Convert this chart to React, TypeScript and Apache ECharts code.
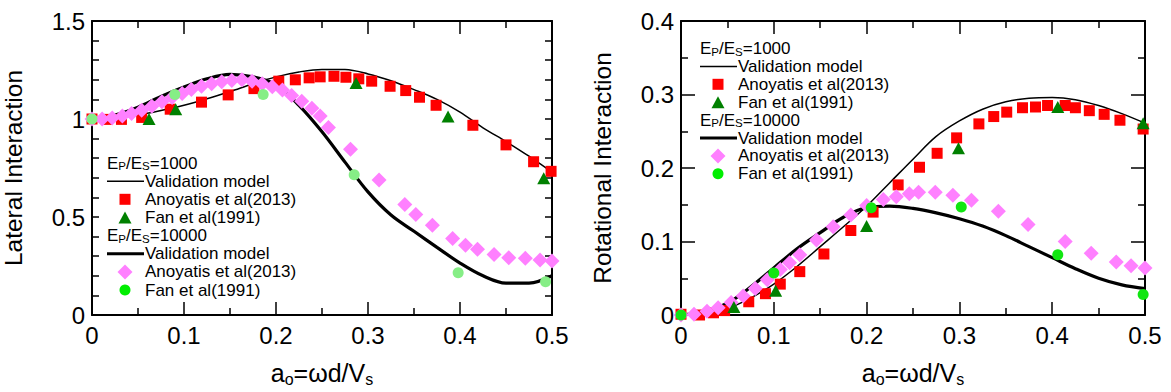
import React, { useEffect, useRef } from 'react';
import * as echarts from 'echarts';

const FONT = "'Liberation Sans', Arial, Helvetica, sans-serif";

// ---------- Left panel: Lateral Interaction ----------
const lineX = [0, 0.025, 0.05, 0.075, 0.1, 0.125, 0.15, 0.175, 0.2, 0.225, 0.25, 0.275, 0.3, 0.325, 0.35, 0.375, 0.4, 0.425, 0.45, 0.475, 0.5];
const latModel1000 = [1.0, 1.005, 1.02, 1.043, 1.07, 1.103, 1.14, 1.18, 1.215, 1.24, 1.253, 1.252, 1.23, 1.195, 1.15, 1.1, 1.035, 0.955, 0.885, 0.81, 0.728];
const latModel10000 = [1.0, 1.02, 1.06, 1.115, 1.163, 1.205, 1.228, 1.215, 1.175, 1.07, 0.935, 0.78, 0.628, 0.51, 0.427, 0.345, 0.265, 0.2, 0.163, 0.163, 0.2];

const latAnoy1000X = [0, 0.016, 0.032, 0.054, 0.085, 0.119, 0.148, 0.176, 0.203, 0.221, 0.236, 0.248, 0.263, 0.276, 0.29, 0.304, 0.324, 0.341, 0.356, 0.374, 0.414, 0.45, 0.48, 0.499];
const latAnoy1000Y = [1.0, 0.998, 0.998, 1.008, 1.05, 1.086, 1.123, 1.155, 1.193, 1.2, 1.21, 1.215, 1.218, 1.213, 1.205, 1.193, 1.167, 1.145, 1.111, 1.07, 0.968, 0.868, 0.782, 0.733];
const latFan1000X = [0.062, 0.091, 0.287, 0.387, 0.491];
const latFan1000Y = [1.0, 1.05, 1.184, 1.013, 0.698];
const latAnoy10000X = [0, 0.011, 0.022, 0.033, 0.043, 0.054, 0.065, 0.076, 0.087, 0.098, 0.108, 0.119, 0.13, 0.141, 0.152, 0.163, 0.174, 0.185, 0.196, 0.207, 0.217, 0.228, 0.239, 0.248, 0.257, 0.281, 0.312, 0.34, 0.352, 0.37, 0.392, 0.406, 0.419, 0.437, 0.453, 0.471, 0.487, 0.5];
const latAnoy10000Y = [1.0, 1.0, 1.005, 1.015, 1.028, 1.045, 1.065, 1.088, 1.11, 1.13, 1.15, 1.167, 1.18, 1.19, 1.197, 1.2, 1.193, 1.18, 1.165, 1.148, 1.12, 1.09, 1.055, 1.015, 0.956, 0.846, 0.689, 0.564, 0.513, 0.458, 0.39, 0.356, 0.335, 0.309, 0.292, 0.289, 0.28, 0.275];
const latFan10000X = [0, 0.09, 0.186, 0.285, 0.398, 0.493];
const latFan10000Y = [1.0, 1.125, 1.125, 0.716, 0.216, 0.17];

// ---------- Right panel: Rotational Interaction ----------
const rotModel1000 = [0, 0.002, 0.009, 0.023, 0.042, 0.066, 0.093, 0.12, 0.148, 0.18, 0.212, 0.243, 0.264, 0.28, 0.29, 0.295, 0.296, 0.293, 0.285, 0.274, 0.261];
const rotModel10000 = [0, 0.004, 0.016, 0.038, 0.064, 0.09, 0.112, 0.133, 0.146, 0.148, 0.145, 0.139, 0.131, 0.121, 0.108, 0.093, 0.078, 0.063, 0.05, 0.041, 0.036];

const rotAnoy1000X = [0, 0.02, 0.035, 0.047, 0.073, 0.091, 0.107, 0.128, 0.154, 0.183, 0.207, 0.234, 0.257, 0.276, 0.297, 0.321, 0.337, 0.351, 0.368, 0.382, 0.395, 0.414, 0.425, 0.44, 0.456, 0.473, 0.498];
const rotAnoy1000Y = [0.001, 0.0, 0.003, 0.006, 0.018, 0.029, 0.042, 0.059, 0.083, 0.115, 0.14, 0.177, 0.201, 0.22, 0.241, 0.26, 0.27, 0.276, 0.282, 0.283, 0.285, 0.285, 0.282, 0.278, 0.273, 0.265, 0.253];
const rotFan1000X = [0.057, 0.102, 0.2, 0.299, 0.406, 0.498];
const rotFan1000Y = [0.011, 0.033, 0.121, 0.227, 0.283, 0.261];
const rotAnoy10000X = [0, 0.014, 0.028, 0.04, 0.054, 0.067, 0.08, 0.093, 0.107, 0.117, 0.128, 0.146, 0.164, 0.183, 0.2, 0.218, 0.232, 0.246, 0.256, 0.274, 0.293, 0.313, 0.342, 0.374, 0.414, 0.442, 0.469, 0.485, 0.5];
const rotAnoy10000Y = [0.0, 0.001, 0.005, 0.01, 0.017, 0.026, 0.036, 0.048, 0.062, 0.071, 0.082, 0.102, 0.12, 0.136, 0.149, 0.157, 0.161, 0.165, 0.167, 0.167, 0.163, 0.156, 0.141, 0.123, 0.1, 0.084, 0.072, 0.067, 0.064];
const rotFan10000X = [0, 0.1, 0.205, 0.302, 0.406, 0.498];
const rotFan10000Y = [0.0, 0.057, 0.146, 0.147, 0.082, 0.028];

const legendLabels = ['Validation model', 'Anoyatis et al(2013)', 'Fan et al(1991)'];
const ratios = ['1000', '10000'];

const RED = '#ff0000';
const DKGREEN = '#008000';
const PINK = '#ff80ff';
const LTGREEN_L = '#86ee86';
const LTGREEN_R = '#11e611';
const LEG_GREEN = '#00ee00';

const zip = (xs: number[], ys: number[]) => xs.map((x, i) => [x, ys[i]]);

const axisLineStyle = { color: '#000', width: 2 };
const tickStyle = { color: '#000', width: 1.5 };

function xAxis(gridIndex: number, pos: 'bottom' | 'top') {
  const bottom = pos === 'bottom';
  return {
    type: 'value', gridIndex, position: pos, min: 0, max: 0.5, interval: 0.1,
    axisLine: { show: true, onZero: false, lineStyle: axisLineStyle },
    axisTick: { show: true, inside: true, length: 13, lineStyle: tickStyle },
    minorTick: { show: true, splitNumber: 2, length: 7, lineStyle: tickStyle },
    axisLabel: { show: bottom, color: '#000', fontSize: 24, fontFamily: FONT, margin: 8 },
    splitLine: { show: false },
    minorSplitLine: { show: false },
    name: bottom ? '{n|a}{s|o}{n|=ωd/V}{s|s}' : '',
    nameLocation: 'middle',
    nameGap: 44,
    nameTextStyle: {
      color: '#000', fontFamily: FONT,
      rich: {
        n: { fontSize: 25, lineHeight: 28, color: '#000', fontFamily: FONT },
        s: { fontSize: 16, lineHeight: 16, verticalAlign: 'bottom', color: '#000', fontFamily: FONT },
      },
    },
  };
}

function yAxis(gridIndex: number, pos: 'left' | 'right', max: number, interval: number, minorSplit: number, majorLen: number, name: string) {
  const left = pos === 'left';
  return {
    type: 'value', gridIndex, position: pos, min: 0, max, interval,
    axisLine: { show: true, onZero: false, lineStyle: axisLineStyle },
    axisTick: { show: true, inside: true, length: majorLen, lineStyle: tickStyle },
    minorTick: { show: true, splitNumber: minorSplit, length: 7, lineStyle: tickStyle },
    axisLabel: { show: left, color: '#000', fontSize: 24, fontFamily: FONT, margin: 7 },
    splitLine: { show: false },
    minorSplitLine: { show: false },
    name: left ? name : '',
    nameLocation: 'middle',
    nameGap: 66,
    nameTextStyle: { color: '#000', fontSize: 24.5, fontFamily: FONT },
  };
}

function lineSeries(idx: number, ys: number[], width: number) {
  return {
    type: 'line', xAxisIndex: idx * 2, yAxisIndex: idx * 2,
    data: zip(lineX, ys), smooth: 0.35, showSymbol: false, symbol: 'none',
    lineStyle: { color: '#000', width }, silent: true, z: 2,
  };
}

function scatter(idx: number, xs: number[], ys: number[], symbol: string, size: any, color: string, z: number) {
  return {
    type: 'scatter', xAxisIndex: idx * 2, yAxisIndex: idx * 2,
    data: zip(xs, ys), symbol, symbolSize: size,
    itemStyle: { color, opacity: 1 }, z, clip: false,
  };
}

const SQ = 11;
const TRI = [13, 12];
const DIA = 15;
const CIR = 11;

function txt(x: number, y: number, t: string, size: number) {
  return {
    type: 'text', x, y,
    style: { text: t, fill: '#000', font: `${size}px ${FONT}`, lineHeight: size, verticalAlign: 'middle', textVerticalAlign: 'middle', align: 'left' },
  };
}

function legendGraphics(x0: number, y0: number, dy: number) {
  const els: any[] = [];
  const tx = x0 + 38;
  const mx = x0 + 18;
  const F = 17;
  const S = 11.5;
  const header = (y: number, ratio: string) => {
    const wE = 0.667 * F;
    const wSub = 0.667 * S;
    const wSlashE = (0.278 + 0.667) * F;
    return [
      txt(x0, y, 'E', F),
      txt(x0 + wE, y + 3.3, 'P', S),
      txt(x0 + wE + wSub, y, '/E', F),
      txt(x0 + wE + wSub + wSlashE, y + 3.3, 'S', S),
      txt(x0 + wE + 2 * wSub + wSlashE, y, '=' + ratio, F),
    ];
  };
  const modelLine = (y: number, w: number) => ({
    type: 'line', shape: { x1: x0, y1: y, x2: tx - 1, y2: y }, style: { stroke: '#000', lineWidth: w },
  });
  const rows = [0, 1, 2, 3, 4, 5, 6, 7].map((i) => y0 + i * dy);
  els.push(...header(rows[0], ratios[0]));
  els.push(modelLine(rows[1], 1.5), txt(tx, rows[1], legendLabels[0], F));
  els.push({ type: 'rect', shape: { x: mx - SQ / 2, y: rows[2] - SQ / 2, width: SQ, height: SQ }, style: { fill: RED } }, txt(tx, rows[2], legendLabels[1], F));
  els.push({ type: 'polygon', shape: { points: [[mx, rows[3] - 6], [mx + 6.5, rows[3] + 6], [mx - 6.5, rows[3] + 6]] }, style: { fill: DKGREEN } }, txt(tx, rows[3], legendLabels[2], F));
  els.push(...header(rows[4], ratios[1]));
  els.push(modelLine(rows[5], 3.2), txt(tx, rows[5], legendLabels[0], F));
  els.push({ type: 'polygon', shape: { points: [[mx, rows[6] - 7.5], [mx + 7.5, rows[6]], [mx, rows[6] + 7.5], [mx - 7.5, rows[6]]] }, style: { fill: PINK } }, txt(tx, rows[6], legendLabels[1], F));
  els.push({ type: 'circle', shape: { cx: mx, cy: rows[7], r: 5.5 }, style: { fill: LEG_GREEN } }, txt(tx, rows[7], legendLabels[2], F));
  return els;
}

const option: any = {
  animation: false,
  backgroundColor: '#fff',
  grid: [
    { left: 88, top: 21, width: 464, height: 296, containLabel: false },
    { left: 681, top: 21, width: 464, height: 296, containLabel: false },
  ],
  xAxis: [xAxis(0, 'bottom'), xAxis(0, 'top'), xAxis(1, 'bottom'), xAxis(1, 'top')],
  yAxis: [
    yAxis(0, 'left', 1.5, 0.5, 5, 7, 'Lateral Interaction'),
    yAxis(0, 'right', 1.5, 0.5, 5, 7, ''),
    yAxis(1, 'left', 0.4, 0.1, 2, 14, 'Rotational Interaction'),
    yAxis(1, 'right', 0.4, 0.1, 2, 14, ''),
  ],
  series: [
    lineSeries(0, latModel1000, 1.5),
    lineSeries(0, latModel10000, 3.2),
    scatter(0, latAnoy1000X, latAnoy1000Y, 'rect', SQ, RED, 3),
    scatter(0, latAnoy10000X, latAnoy10000Y, 'diamond', DIA, PINK, 4),
    scatter(0, latFan1000X, latFan1000Y, 'triangle', TRI, DKGREEN, 5),
    scatter(0, latFan10000X, latFan10000Y, 'circle', CIR, LTGREEN_L, 6),
    lineSeries(1, rotModel1000, 1.5),
    lineSeries(1, rotModel10000, 3.2),
    scatter(1, rotAnoy1000X, rotAnoy1000Y, 'rect', SQ, RED, 3),
    scatter(1, rotAnoy10000X, rotAnoy10000Y, 'diamond', DIA, PINK, 4),
    scatter(1, rotFan1000X, rotFan1000Y, 'triangle', TRI, DKGREEN, 5),
    scatter(1, rotFan10000X, rotFan10000Y, 'circle', CIR, LTGREEN_R, 6),
  ],
  graphic: [...legendGraphics(107, 163, 18.15), ...legendGraphics(700, 48.5, 17.9)],
};

export default function App() {
  const ref = useRef<HTMLDivElement>(null);
  useEffect(() => {
    if (!ref.current) return;
    const chart = echarts.init(ref.current, null, { renderer: 'svg' });
    chart.setOption(option);
    return () => chart.dispose();
  }, []);
  return (
    <div
      ref={ref}
      style={{ position: 'fixed', left: 0, top: 0, width: 1171, height: 392, background: '#fff' }}
    />
  );
}
